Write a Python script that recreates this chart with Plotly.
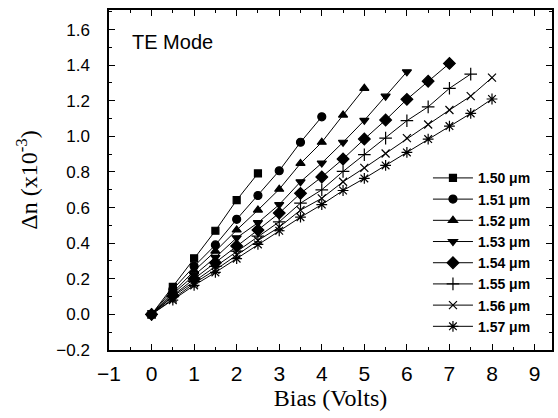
import plotly.graph_objects as go

bias_150 = [0, 0.5, 1, 1.5, 2, 2.5]
dn_150 = [0, 0.155, 0.315, 0.47, 0.642, 0.792]

bias_151 = [0, 0.5, 1, 1.5, 2, 2.5, 3, 3.5, 4]
dn_151 = [0, 0.14, 0.27, 0.39, 0.534, 0.668, 0.807, 0.967, 1.11]

bias_152 = [0, 0.5, 1, 1.5, 2, 2.5, 3, 3.5, 4, 4.5, 5]
dn_152 = [0, 0.125, 0.245, 0.355, 0.474, 0.586, 0.703, 0.848, 0.967, 1.12, 1.27]

bias_153 = [0, 0.5, 1, 1.5, 2, 2.5, 3, 3.5, 4, 4.5, 5, 5.5, 6]
dn_153 = [0, 0.115, 0.22, 0.32, 0.43, 0.515, 0.617, 0.745, 0.85, 0.967, 1.09, 1.226, 1.363]

bias_154 = [0, 0.5, 1, 1.5, 2, 2.5, 3, 3.5, 4, 4.5, 5, 5.5, 6, 6.5, 7]
dn_154 = [0, 0.105, 0.2, 0.29, 0.384, 0.474, 0.569, 0.68, 0.772, 0.873, 0.985, 1.092, 1.208, 1.31, 1.41]

bias_155 = [0, 0.5, 1, 1.5, 2, 2.5, 3, 3.5, 4, 4.5, 5, 5.5, 6, 6.5, 7, 7.5]
dn_155 = [0, 0.1, 0.185, 0.27, 0.355, 0.44, 0.52, 0.625, 0.70, 0.803, 0.897, 0.99, 1.088, 1.166, 1.27, 1.35]

bias_156 = [0, 0.5, 1, 1.5, 2, 2.5, 3, 3.5, 4, 4.5, 5, 5.5, 6, 6.5, 7, 7.5, 8]
dn_156 = [0, 0.09, 0.175, 0.25, 0.335, 0.415, 0.49, 0.586, 0.652, 0.745, 0.823, 0.904, 0.99, 1.067, 1.148, 1.226, 1.33]

bias_157 = [0, 0.5, 1, 1.5, 2, 2.5, 3, 3.5, 4, 4.5, 5, 5.5, 6, 6.5, 7, 7.5, 8]
dn_157 = [0, 0.08, 0.163, 0.236, 0.313, 0.393, 0.47, 0.546, 0.617, 0.696, 0.764, 0.837, 0.91, 0.985, 1.058, 1.129, 1.21]

names = ["1.50 \u03bcm", "1.51 \u03bcm", "1.52 \u03bcm", "1.53 \u03bcm",
         "1.54 \u03bcm", "1.55 \u03bcm", "1.56 \u03bcm", "1.57 \u03bcm"]
xs = [bias_150, bias_151, bias_152, bias_153, bias_154, bias_155, bias_156, bias_157]
ys = [dn_150, dn_151, dn_152, dn_153, dn_154, dn_155, dn_156, dn_157]
symbols = ["square", "circle", "triangle-up", "triangle-down", "diamond",
           "cross-thin-open", "x-thin-open", "asterisk-open"]
sizes = [7, 8, 8, 8, 9, 9, 8, 9]

fig = go.Figure()
for n, x, y, s, sz in zip(names, xs, ys, symbols, sizes):
    fig.add_trace(go.Scatter(
        x=x, y=y, name=n, mode="lines+markers",
        line=dict(color="black", width=1),
        marker=dict(symbol=s, size=sz, color="black",
                    line=dict(color="black", width=1.2)),
    ))

axis_common = dict(
    showline=True, linecolor="black", linewidth=1.5, mirror="allticks",
    ticks="inside", ticklen=6, tickwidth=1.2, tickcolor="black",
    showgrid=False, zeroline=False,
)

fig.update_xaxes(
    range=[-1, 9.41], dtick=1, tick0=0,
    minor=dict(ticks="inside", ticklen=3, dtick=0.5, tickcolor="black", tickwidth=1),
    tickfont=dict(family="Arial", size=21, color="black"),
    ticklabelstandoff=4,
    title=dict(text="Bias (Volts)", font=dict(family="Times New Roman, Liberation Serif", size=24, color="black"), standoff=4),
    **axis_common,
)
fig.update_yaxes(
    range=[-0.2, 1.71], dtick=0.2, tick0=0, tickformat=".1f",
    minor=dict(ticks="inside", ticklen=3, dtick=0.1, tickcolor="black", tickwidth=1),
    tickfont=dict(family="Arial", size=17, color="black"),
    ticklabelstandoff=14,
    title=dict(text="\u0394n (x10<sup>-3</sup>)", font=dict(family="Times New Roman, Liberation Serif", size=24, color="black"), standoff=12),
    **axis_common,
)

fig.add_annotation(
    text="TE Mode", xref="paper", yref="paper", x=0.047, y=0.905,
    xanchor="left", yanchor="middle", showarrow=False,
    font=dict(family="Arial", size=20, color="black"),
)

fig.update_layout(
    width=558, height=418,
    margin=dict(l=109, r=6, t=10, b=68, autoexpand=False),
    paper_bgcolor="white", plot_bgcolor="white",
    showlegend=True,
    legend=dict(
        x=0.72, y=0.552, xanchor="left", yanchor="top",
        bgcolor="rgba(0,0,0,0)",
        font=dict(family="Arial", size=14, color="black", weight="bold"),
        tracegroupgap=0, itemwidth=40,
    ),
)

fig.write_html("out.html", config={"displayModeBar": False},
               post_script="document.body.style.margin='0';document.body.style.padding='0';")
